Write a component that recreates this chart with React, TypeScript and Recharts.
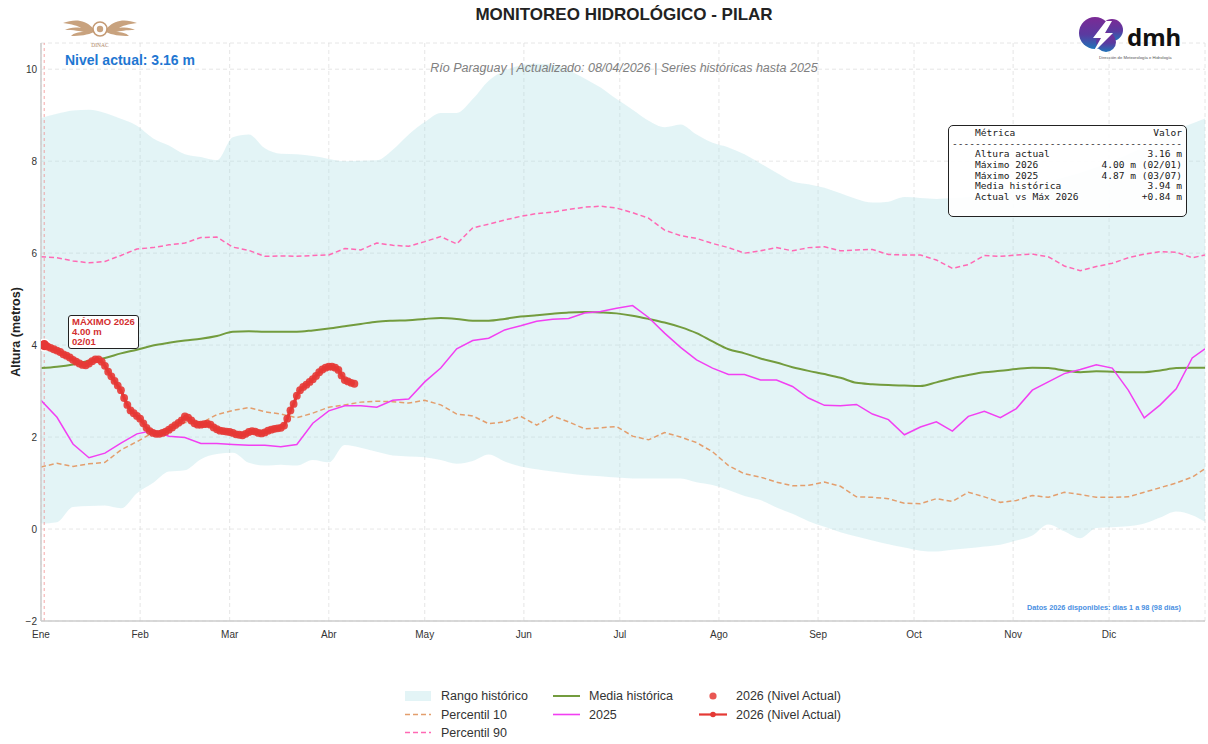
import React from 'react';
import {
  ComposedChart,
  Area,
  Line,
  Scatter,
  XAxis,
  YAxis,
  CartesianGrid,
  ReferenceLine,
  Legend,
} from 'recharts';

// ---------- DATA ----------
const DAYS = [
  0, 5, 10, 15, 20, 25, 30, 35, 40, 45,
  50, 55, 60, 65, 70, 75, 80, 85, 90, 95,
  100, 105, 110, 115, 120, 125, 130, 135, 140, 145,
  150, 155, 160, 165, 170, 175, 180, 185, 190, 195,
  200, 205, 210, 215, 220, 225, 230, 235, 240, 245,
  250, 255, 260, 265, 270, 275, 280, 285, 290, 295,
  300, 305, 310, 315, 320, 325, 330, 335, 340, 345,
  350, 355, 360, 364,
];

const RANGE_MAX = [
  8.94, 9.03, 9.10, 9.12, 9.05, 8.92, 8.77, 8.50, 8.34, 8.15,
  8.09, 8.02, 8.52, 8.58, 8.28, 8.16, 8.15, 8.11, 8.05, 8.00,
  8.01, 8.02, 8.25, 8.58, 8.85, 9.05, 9.05, 9.35, 9.75, 9.97,
  10.08, 10.12, 10.10, 9.98, 9.80, 9.60, 9.35, 9.12, 8.88, 8.74,
  8.80, 8.58, 8.40, 8.30, 8.15, 7.95, 7.75, 7.56, 7.50, 7.42,
  7.30, 7.18, 7.10, 7.12, 7.22, 7.20, 7.18, 7.20, 7.22, 7.27,
  7.32, 7.38, 7.45, 7.55, 7.65, 7.75, 7.87, 8.00, 8.15, 8.32,
  8.50, 8.68, 8.82, 8.93,
];

const RANGE_MIN = [
  0.12, 0.15, 0.48, 0.50, 0.51, 0.45, 0.78, 1.00, 1.25, 1.28,
  1.52, 1.63, 1.66, 1.44, 1.38, 1.40, 1.38, 1.50, 1.45, 1.83,
  1.77, 1.68, 1.60, 1.58, 1.56, 1.50, 1.42, 1.48, 1.62, 1.47,
  1.36, 1.30, 1.25, 1.21, 1.17, 1.15, 1.12, 1.10, 1.10, 1.10,
  1.10, 1.02, 0.96, 0.85, 0.72, 0.63, 0.47, 0.33, 0.17, 0.05,
  -0.07, -0.16, -0.25, -0.33, -0.40, -0.47, -0.49, -0.45, -0.42, -0.38,
  -0.34, -0.25, -0.14, 0.10, -0.05, -0.20, 0.02, 0.04, 0.06, 0.12,
  0.25, 0.38, 0.30, 0.16,
];

const P10 = [
  1.35, 1.43, 1.36, 1.42, 1.45, 1.72, 1.90, 2.10, 2.18, 2.32,
  2.30, 2.49, 2.58, 2.64, 2.55, 2.50, 2.42, 2.52, 2.65, 2.70,
  2.76, 2.78, 2.77, 2.74, 2.80, 2.70, 2.50, 2.46, 2.29, 2.33,
  2.45, 2.26, 2.46, 2.33, 2.18, 2.20, 2.23, 2.02, 1.94, 2.10,
  2.00, 1.88, 1.68, 1.38, 1.20, 1.13, 1.02, 0.94, 0.95, 1.02,
  0.93, 0.70, 0.69, 0.66, 0.56, 0.55, 0.66, 0.60, 0.80, 0.70,
  0.58, 0.62, 0.73, 0.69, 0.80, 0.75, 0.69, 0.69, 0.70, 0.80,
  0.90, 1.00, 1.13, 1.31,
];

const P90 = [
  5.92, 5.90, 5.83, 5.79, 5.82, 5.95, 6.09, 6.12, 6.18, 6.22,
  6.34, 6.35, 6.13, 6.06, 5.93, 5.94, 5.93, 5.95, 5.96, 6.10,
  6.07, 6.22, 6.17, 6.15, 6.25, 6.36, 6.20, 6.55, 6.63, 6.72,
  6.80, 6.86, 6.89, 6.95, 7.00, 7.02, 6.98, 6.88, 6.76, 6.50,
  6.38, 6.32, 6.21, 6.12, 6.00, 6.05, 6.12, 6.05, 6.12, 6.14,
  6.05, 6.07, 6.08, 5.97, 5.96, 5.96, 5.85, 5.67, 5.75, 5.95,
  5.93, 5.96, 5.98, 5.92, 5.72, 5.62, 5.71, 5.78, 5.90, 5.98,
  6.03, 6.02, 5.90, 5.96,
];

const MEAN = [
  3.50, 3.53, 3.58, 3.66, 3.72, 3.82, 3.90, 3.99, 4.05, 4.10,
  4.14, 4.20, 4.29, 4.30, 4.29, 4.29, 4.29, 4.32, 4.36, 4.41,
  4.46, 4.51, 4.53, 4.54, 4.57, 4.59, 4.57, 4.53, 4.53, 4.57,
  4.62, 4.65, 4.68, 4.71, 4.72, 4.71, 4.69, 4.64, 4.57, 4.49,
  4.39, 4.26, 4.08, 3.91, 3.82, 3.71, 3.62, 3.52, 3.44, 3.37,
  3.29, 3.18, 3.15, 3.13, 3.12, 3.11, 3.19, 3.28, 3.35, 3.41,
  3.44, 3.48, 3.51, 3.50, 3.45, 3.41, 3.43, 3.42, 3.41, 3.41,
  3.45, 3.50, 3.51, 3.51,
];

const Y2025 = [
  2.80, 2.43, 1.85, 1.55, 1.65, 1.87, 2.07, 2.14, 2.02, 1.99,
  1.86, 1.86, 1.84, 1.82, 1.82, 1.79, 1.84, 2.30, 2.57, 2.68,
  2.68, 2.65, 2.80, 2.83, 3.20, 3.50, 3.92, 4.10, 4.15, 4.33,
  4.42, 4.52, 4.56, 4.58, 4.70, 4.73, 4.80, 4.86, 4.60, 4.26,
  3.95, 3.68, 3.50, 3.36, 3.36, 3.24, 3.24, 3.10, 2.85, 2.69,
  2.68, 2.71, 2.50, 2.38, 2.05, 2.22, 2.33, 2.13, 2.45, 2.56,
  2.42, 2.62, 3.02, 3.20, 3.38, 3.47, 3.57, 3.50, 3.02, 2.42,
  2.70, 3.05, 3.72, 3.92,
];

// 2026 daily values, days 1..98
const Y2026 = [
  4.00, 3.97, 3.94, 3.91, 3.88, 3.85, 3.80, 3.77, 3.73, 3.68,
  3.64, 3.60, 3.57, 3.56, 3.60, 3.65, 3.69, 3.69, 3.64, 3.55,
  3.42, 3.32, 3.22, 3.12, 3.02, 2.85, 2.70, 2.58, 2.52, 2.46,
  2.40, 2.30, 2.20, 2.13, 2.09, 2.07, 2.07, 2.09, 2.12, 2.16,
  2.21, 2.26, 2.31, 2.36, 2.45, 2.42, 2.36, 2.30, 2.27, 2.27,
  2.28, 2.29, 2.27, 2.21, 2.17, 2.14, 2.13, 2.12, 2.11, 2.09,
  2.06, 2.05, 2.04, 2.07, 2.11, 2.13, 2.12, 2.09, 2.08, 2.10,
  2.14, 2.16, 2.18, 2.19, 2.20, 2.25, 2.40, 2.58, 2.72, 2.90,
  3.02, 3.09, 3.14, 3.20, 3.26, 3.33, 3.41, 3.47, 3.51, 3.53,
  3.53, 3.51, 3.46, 3.34, 3.24, 3.21, 3.18, 3.16,
];

const MONTH_TICKS = [0, 31, 59, 90, 120, 151, 181, 212, 243, 273, 304, 334];
const MONTH_LABELS = ['Ene', 'Feb', 'Mar', 'Abr', 'May', 'Jun', 'Jul', 'Ago', 'Sep', 'Oct', 'Nov', 'Dic'];
const Y_TICKS = [-2, 0, 2, 4, 6, 8, 10];

const STAT_LABELS = ['Altura actual', 'Máximo 2026', 'Máximo 2025', 'Media histórica', 'Actual vs Máx 2026'];
const STAT_VALUES = ['3.16 m', '4.00 m (02/01)', '4.87 m (03/07)', '3.94 m', '+0.84 m'];

// ---------- derived tables ----------
const histData = DAYS.map((d, i) => ({
  day: d,
  range: [RANGE_MIN[i], RANGE_MAX[i]],
  p10: P10[i],
  p90: P90[i],
  mean: MEAN[i],
  y2025: Y2025[i],
}));
const data2026 = Y2026.map((v, i) => ({ day: i + 1, v }));
const maxPoint = [data2026[0]];

// ---------- styles ----------
const FONT = '"Liberation Sans", Arial, Helvetica, sans-serif';
const MONO = '"DejaVu Sans Mono", "Liberation Mono", monospace';
const C_BAND = '#b0e0e6';
const C_P10 = '#e39e6d';
const C_P90 = '#ff69b4';
const C_MEAN = '#739c3e';
const C_2025 = '#f23ff2';
const C_2026 = '#e53935';

const statRow = (l: string, v: string) => '    ' + l + ' '.repeat(Math.max(1, 40 - 4 - l.length - v.length)) + v;
const statText = [
  statRow('Métrica', 'Valor'),
  '-'.repeat(40),
  ...STAT_LABELS.map((l, i) => statRow(l, STAT_VALUES[i])),
].join('\n');

const WING = 'M93 28 C84 19 74 19 63 23 C72 24 78 26 81 28 C74 27 69 28 65 30 C74 30 80 31 84 32 C78 32 74 33 71 36 C80 36 88 35 94 32 Z';

const LegendBox = () => {
  const txt: React.CSSProperties = { position: 'absolute', fontSize: 12.5, color: '#333', lineHeight: '14px', whiteSpace: 'nowrap', fontFamily: FONT };
  const rows = [10, 28.5, 46.5];
  return (
    <div style={{ position: 'relative', width: 470, height: 56 }}>
      <svg width={470} height={56} style={{ position: 'absolute', left: 0, top: 0 }}>
        <rect x={10} y={rows[0] - 5} width={26} height={10} fill={C_BAND} fillOpacity={0.35} />
        <line x1={10} x2={36} y1={rows[1]} y2={rows[1]} stroke={C_P10} strokeWidth={1.6} strokeDasharray="5 3" />
        <line x1={10} x2={36} y1={rows[2]} y2={rows[2]} stroke={C_P90} strokeWidth={1.6} strokeDasharray="5 3" />
        <line x1={158} x2={185} y1={rows[0]} y2={rows[0]} stroke={C_MEAN} strokeWidth={2} />
        <line x1={158} x2={185} y1={rows[1]} y2={rows[1]} stroke={C_2025} strokeWidth={1.6} />
        <circle cx={318} cy={rows[0]} r={3.6} fill={C_2026} fillOpacity={0.85} />
        <line x1={304} x2={332} y1={rows[1]} y2={rows[1]} stroke={C_2026} strokeWidth={2.2} />
        <circle cx={318} cy={rows[1]} r={2.8} fill={C_2026} />
      </svg>
      <div style={{ ...txt, left: 46, top: rows[0] - 7 }}>Rango histórico</div>
      <div style={{ ...txt, left: 46, top: rows[1] - 7 }}>Percentil 10</div>
      <div style={{ ...txt, left: 46, top: rows[2] - 7 }}>Percentil 90</div>
      <div style={{ ...txt, left: 194, top: rows[0] - 7 }}>Media histórica</div>
      <div style={{ ...txt, left: 194, top: rows[1] - 7 }}>2025</div>
      <div style={{ ...txt, left: 341, top: rows[0] - 7 }}>2026 (Nivel Actual)</div>
      <div style={{ ...txt, left: 341, top: rows[1] - 7 }}>2026 (Nivel Actual)</div>
    </div>
  );
};

export default function App() {
  return (
    <div style={{ position: 'absolute', left: 0, top: 0, width: 1208, height: 744, background: '#fff', fontFamily: FONT, overflow: 'hidden' }}>
      <ComposedChart width={1208} height={744} data={histData} margin={{ top: 43, right: 3, bottom: 98, left: 0 }}>
        <Area
          dataKey="range"
          type="monotone"
          stroke="none"
          fill={C_BAND}
          fillOpacity={0.35}
          isAnimationActive={false}
          legendType="none"
          name="Rango histórico"
        />
        <CartesianGrid stroke="#dcdcdc" strokeOpacity={0.7} strokeDasharray="4 3" />
        <XAxis
          dataKey="day"
          type="number"
          domain={[0, 364]}
          ticks={MONTH_TICKS}
          interval={0}
          allowDataOverflow
          tickFormatter={(v: number) => MONTH_LABELS[MONTH_TICKS.indexOf(v)] ?? ''}
          tickLine={false}
          axisLine={{ stroke: '#cccccc', strokeWidth: 1.5 }}
          tick={{ fontSize: 10, fill: '#333', fontFamily: FONT }}
          tickSize={6}
          tickMargin={4}
          height={25}
        />
        <YAxis
          type="number"
          domain={[-2, 10.57]}
          ticks={Y_TICKS}
          interval={0}
          allowDataOverflow
          tickFormatter={(v: number) => (v < 0 ? '\u2212' + Math.abs(v) : String(v))}
          tickLine={false}
          axisLine={{ stroke: '#cccccc', strokeWidth: 1.5 }}
          tick={{ fontSize: 10, fill: '#333', fontFamily: FONT }}
          tickSize={2}
          tickMargin={2}
          width={41}
        />
        <ReferenceLine x={1} stroke="#f08080" strokeOpacity={0.7} strokeDasharray="3 3" strokeWidth={1} />
        <Line dataKey="p10" type="linear" stroke={C_P10} strokeWidth={1.5} strokeDasharray="5 3" dot={false} isAnimationActive={false} name="Percentil 10" />
        <Line dataKey="p90" type="linear" stroke={C_P90} strokeWidth={1.5} strokeDasharray="5 3" dot={false} isAnimationActive={false} name="Percentil 90" />
        <Line dataKey="mean" type="monotone" stroke={C_MEAN} strokeWidth={2} dot={false} isAnimationActive={false} name="Media histórica" />
        <Line dataKey="y2025" type="linear" stroke={C_2025} strokeWidth={1.5} dot={false} isAnimationActive={false} name="2025" />
        <Line
          data={data2026}
          dataKey="v"
          type="linear"
          stroke={C_2026}
          strokeWidth={3.2}
          dot={{ r: 3.9, fill: C_2026, stroke: C_2026, strokeWidth: 0, fillOpacity: 0.9 }}
          isAnimationActive={false}
          name="2026 (Nivel Actual)"
        />
        <Scatter
          data={maxPoint}
          dataKey="v"
          isAnimationActive={false}
          name="2026 (Nivel Actual)"
          shape={(p: any) => <circle cx={p.cx} cy={p.cy} r={5.8} fill={C_2026} stroke="#fff" strokeWidth={1.5} />}
        />
        <Legend
          layout="horizontal"
          verticalAlign="middle"
          align="center"
          wrapperStyle={{ left: 395, top: 686, width: 470, height: 56 }}
          content={() => <LegendBox />}
        />
      </ComposedChart>

      {/* overlay texts and logos */}
      <svg width={1208} height={744} style={{ position: 'absolute', left: 0, top: 0, pointerEvents: 'none' }}>
        <defs>
          <linearGradient id="dmhGrad" x1="0" y1="0" x2="0" y2="1">
            <stop offset="0%" stopColor="#7b2a95" />
            <stop offset="55%" stopColor="#5a3aa0" />
            <stop offset="100%" stopColor="#1f74b8" />
          </linearGradient>
        </defs>
        <text x={624} y={20} textAnchor="middle" fontSize={17} fontWeight="bold" fill="#222" fontFamily={FONT}>
          MONITOREO HIDROLÓGICO - PILAR
        </text>
        <text x={624} y={72} textAnchor="middle" fontSize={12.5} fontStyle="italic" fill="#808080" fontFamily={FONT}>
          Río Paraguay | Actualizado: 08/04/2026 | Series históricas hasta 2025
        </text>
        <text x={65} y={65} fontSize={14} fontWeight="bold" fill="#1f77d2" fontFamily={FONT}>
          Nivel actual: 3.16 m
        </text>
        <text x={19.5} y={332} transform="rotate(-90 19.5 332)" textAnchor="middle" fontSize={12.5} fontWeight="bold" fill="#222" fontFamily={FONT}>
          Altura (metros)
        </text>
        <text x={1181} y={610} textAnchor="end" fontSize={7.3} fontWeight="bold" fill="#4a90e2" fontFamily={FONT}>
          Datos 2026 disponibles: días 1 a 98 (98 días)
        </text>

        {/* DINAC logo */}
        <g fill="#c8a27e">
          <path d={WING} />
          <path transform="translate(200,0) scale(-1,1)" d={WING} />
          <circle cx={100} cy={29} r={7} fill="#fff" stroke="#c49a74" strokeWidth={1.6} />
          <circle cx={100} cy={29} r={3.2} />
        </g>
        <text x={100} y={46.5} textAnchor="middle" fontSize={5.5} fill="#b08968" fontFamily="'Liberation Serif', serif">DINAC</text>

        {/* dmh logo */}
        <g fill="url(#dmhGrad)">
          <circle cx={1095} cy={33} r={16} />
          <circle cx={1112} cy={30} r={11} />
          <circle cx={1106} cy={42} r={10} />
        </g>
        <polygon points="1106,21 1093,38 1101,38 1092,54 1113,33 1105,33 1112,21" fill="#fff" />
        <text x={1127} y={46} fontSize={24} fontWeight="bold" fill="#111" fontFamily="'Noto Sans', sans-serif">dmh</text>
        <text x={1099} y={59} fontSize={4.2} fill="#555" fontFamily={FONT}>Dirección de Meteorología e Hidrología</text>
      </svg>

      {/* annotation for max 2026 */}
      <div
        style={{
          position: 'absolute',
          left: 68,
          top: 315,
          width: 66,
          height: 31,
          border: '1.2px solid #222',
          borderRadius: 3,
          background: '#fff',
          padding: '1px 0 0 3px',
          boxSizing: 'content-box',
          color: '#d32f2f',
          fontWeight: 'bold',
          fontSize: 9.5,
          lineHeight: '10px',
          fontFamily: FONT,
          whiteSpace: 'nowrap',
        }}
      >
        <div>MÁXIMO 2026</div>
        <div>4.00 m</div>
        <div>02/01</div>
      </div>

      {/* stats box */}
      <div
        style={{
          position: 'absolute',
          left: 948,
          top: 125,
          width: 237,
          height: 90,
          border: '1.3px solid #222',
          borderRadius: 5,
          background: 'rgba(255,255,255,0.9)',
        }}
      />
      <pre
        style={{
          position: 'absolute',
          left: 952,
          top: 128,
          margin: 0,
          fontFamily: MONO,
          fontSize: 9.55,
          lineHeight: '10.67px',
          color: '#1a1a1a',
        }}
      >
        {statText}
      </pre>
    </div>
  );
}
